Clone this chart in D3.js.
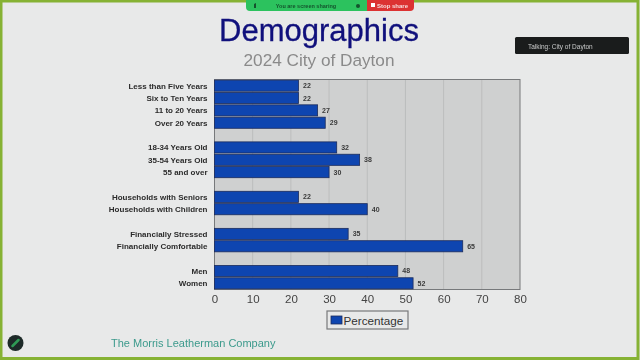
<!DOCTYPE html>
<html>
<head>
<meta charset="utf-8">
<script src="https://cdn.jsdelivr.net/npm/d3@7"></script>
<style>
  html, body { margin: 0; padding: 0; background: #e8e9e9; }
  svg { display: block; filter: blur(0.35px); }
  text { font-family: "Liberation Sans", Arial, sans-serif; }
</style>
</head>
<body>
<svg id="chart" width="640" height="360"></svg>
<script>
// blank strings are the gaps between the groups of bars
const categories = [
  "Less than Five Years", "Six to Ten Years", "11 to 20 Years", "Over 20 Years", "",
  "18-34 Years Old", "35-54 Years Old", "55 and over", "",
  "Households with Seniors", "Households with Children", "",
  "Financially Stressed", "Financially Comfortable", "",
  "Men", "Women"
]
const percentages = [22, 22, 27, 29, null, 32, 38, 30, null, 22, 40, null, 35, 65, null, 48, 52]
const xTicks = [0, 10, 20, 30, 40, 50, 60, 70, 80]
const seriesName = "Percentage"

const svg = d3.select("#chart")
const rows = categories.map((name, i) => ({ i, name, value: percentages[i] }))

const x = d3.scaleLinear().domain([0, 80]).range([214.5, 520])
const y = d3.scaleBand().domain(d3.range(rows.length)).range([79.5, 289.5]).paddingInner(0.1).paddingOuter(0.05)

// screen share frame
svg.append("rect")
    .attr("x", 1).attr("y", 1)
    .attr("width", 637).attr("height", 357.5)
    .attr("fill", "none")
    .attr("stroke", "#86b234")
    .attr("stroke-width", 3)

svg.append("text")
    .attr("x", 319).attr("y", 41)
    .attr("text-anchor", "middle")
    .attr("font-size", 31)
    .attr("fill", "#10107c")
    .attr("stroke", "#10107c")
    .attr("stroke-width", 0.3)
    .text("Demographics")

svg.append("text")
    .attr("x", 319).attr("y", 66)
    .attr("text-anchor", "middle")
    .attr("font-size", 17.2)
    .attr("fill", "#8a8a8a")
    .text("2024 City of Dayton")

// plot area
svg.append("rect")
    .attr("x", x(0)).attr("y", 79.5)
    .attr("width", x(80) - x(0)).attr("height", 210)
    .attr("fill", "#cfd0d0")

svg.append("g")
    .selectAll("line")
    .data(xTicks.slice(1, -1))
    .join("line")
    .attr("x1", d => x(d)).attr("x2", d => x(d))
    .attr("y1", 79.5).attr("y2", 289.5)
    .attr("stroke", "#bcbdbd")

svg.append("rect")
    .attr("x", x(0)).attr("y", 79.5)
    .attr("width", x(80) - x(0)).attr("height", 210)
    .attr("fill", "none")
    .attr("stroke", "#77797b")

const filled = rows.filter(d => d.value !== null)

svg.append("g")
    .selectAll("rect")
    .data(filled)
    .join("rect")
    .attr("x", x(0))
    .attr("y", d => y(d.i))
    .attr("width", d => x(d.value) - x(0))
    .attr("height", y.bandwidth())
    .attr("fill", "#0e45b0")
    .attr("stroke", "#1c2c5c")
    .attr("stroke-width", 0.8)

svg.append("g")
    .selectAll("text")
    .data(filled)
    .join("text")
    .attr("x", d => x(d.value) + 4.5)
    .attr("y", d => y(d.i) + y.bandwidth() / 2 + 2.5)
    .attr("font-size", 7)
    .attr("font-weight", "bold")
    .attr("fill", "#3a3a3a")
    .text(d => d.value)

svg.append("g")
    .selectAll("text")
    .data(filled)
    .join("text")
    .attr("x", 207.5)
    .attr("y", d => y(d.i) + y.bandwidth() / 2 + 3)
    .attr("text-anchor", "end")
    .attr("font-size", 8)
    .attr("font-weight", "bold")
    .attr("fill", "#2b2b2b")
    .text(d => d.name)

// value axis
const xAxis = svg.append("g")
    .attr("transform", "translate(0,289.5)")
    .call(d3.axisBottom(x).tickValues(xTicks).tickSize(0).tickPadding(5.5))
xAxis.select(".domain").remove()
xAxis.selectAll("text")
    .attr("font-size", 11.5)
    .attr("font-family", "Liberation Sans")
    .attr("fill", "#444")

// legend
const legend = svg.append("g").attr("transform", "translate(327,311)")
legend.append("rect")
    .attr("width", 81).attr("height", 18)
    .attr("fill", "#e8e9e9")
    .attr("stroke", "#77797b")
    .attr("stroke-width", 1.2)
legend.append("rect")
    .attr("x", 4).attr("y", 5)
    .attr("width", 11).attr("height", 8)
    .attr("fill", "#0e45b0")
    .attr("stroke", "#1c2c5c")
    .attr("stroke-width", 0.8)
legend.append("text")
    .attr("x", 16.5).attr("y", 13.5)
    .attr("font-size", 11.7)
    .attr("fill", "#333")
    .text(seriesName)

svg.append("text")
    .attr("x", 111).attr("y", 347)
    .attr("font-size", 11)
    .attr("fill", "#3c9a8c")
    .text("The Morris Leatherman Company")

// sharing banner
svg.append("path")
    .attr("d", "M246,0H367V11H250Q246,11 246,7Z")
    .attr("fill", "#2cc25e")
svg.append("path")
    .attr("d", "M367,0H414V7Q414,11 410,11H367Z")
    .attr("fill", "#dc3232")
svg.append("text")
    .attr("x", 306).attr("y", 8)
    .attr("text-anchor", "middle")
    .attr("font-size", 5.5)
    .attr("font-weight", "bold")
    .attr("fill", "#14532d")
    .text("You are screen sharing")
svg.append("circle").attr("cx", 358).attr("cy", 6).attr("r", 2).attr("fill", "#14532d")
svg.append("path").attr("d", "M254,4L256,3V8H254Z").attr("fill", "#14532d")
svg.append("rect").attr("x", 371).attr("y", 3).attr("width", 4).attr("height", 4).attr("fill", "#fff")
svg.append("text")
    .attr("x", 377).attr("y", 8)
    .attr("font-size", 6)
    .attr("font-weight", "bold")
    .attr("fill", "#f6dede")
    .text("Stop share")

// talking indicator
svg.append("rect")
    .attr("x", 515).attr("y", 37)
    .attr("width", 114).attr("height", 17)
    .attr("rx", 1.5)
    .attr("fill", "#1a1c1c")
svg.append("text")
    .attr("x", 528).attr("y", 49)
    .attr("font-size", 6.5)
    .attr("fill", "#c9caca")
    .text("Talking: City of Dayton")

// bottom left badge
svg.append("circle").attr("cx", 15.5).attr("cy", 343).attr("r", 8).attr("fill", "#1d2a28")
svg.append("line")
    .attr("x1", 12.5).attr("y1", 346).attr("x2", 18.5).attr("y2", 340)
    .attr("stroke", "#2f9a55")
    .attr("stroke-width", 2.5)
    .attr("stroke-linecap", "round")
</script>
</body>
</html>
